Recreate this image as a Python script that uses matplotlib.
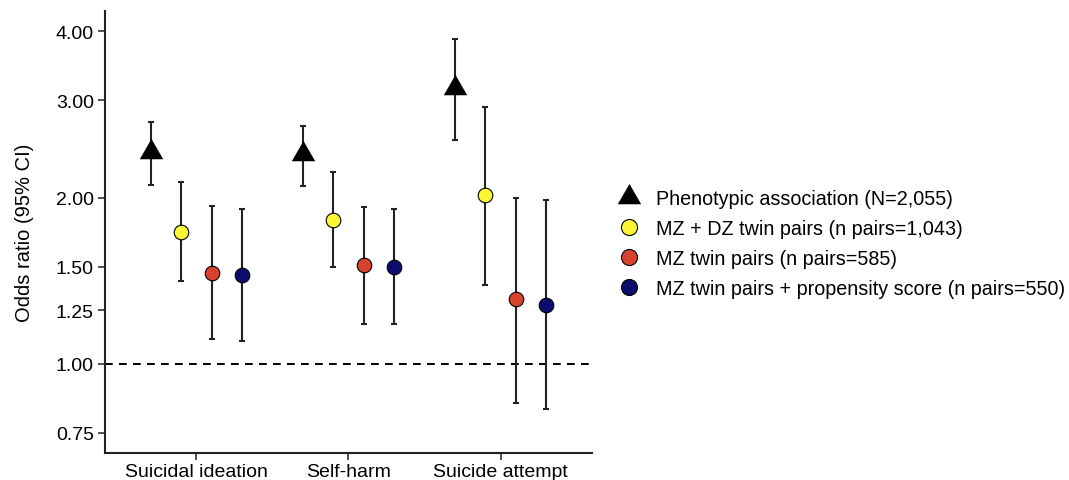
import matplotlib
matplotlib.use("Agg")
import matplotlib.pyplot as plt
from matplotlib.lines import Line2D
import numpy as np

plt.rcParams['font.family'] = ['Liberation Sans', 'DejaVu Sans']

categories = ["Suicidal ideation", "Self-harm", "Suicide attempt"]
series_names = [
    "Phenotypic association (N=2,055)",
    "MZ + DZ twin pairs (n pairs=1,043)",
    "MZ twin pairs (n pairs=585)",
    "MZ twin pairs + propensity score (n pairs=550)",
]
# odds ratios and 95% CI per series, one value per category
phenotypic_or = [2.42, 2.40, 3.16]
phenotypic_lo = [2.11, 2.10, 2.54]
phenotypic_hi = [2.74, 2.69, 3.87]

mzdz_or = [1.73, 1.82, 2.02]
mzdz_lo = [1.41, 1.50, 1.39]
mzdz_hi = [2.13, 2.22, 2.91]

mz_or = [1.46, 1.51, 1.31]
mz_lo = [1.11, 1.18, 0.85]
mz_hi = [1.93, 1.92, 2.00]

mzps_or = [1.45, 1.50, 1.28]
mzps_lo = [1.10, 1.18, 0.83]
mzps_hi = [1.91, 1.91, 1.98]

y_ticks = [0.75, 1.00, 1.25, 1.50, 2.00, 3.00, 4.00]

ors = [phenotypic_or, mzdz_or, mz_or, mzps_or]
los = [phenotypic_lo, mzdz_lo, mz_lo, mzps_lo]
his = [phenotypic_hi, mzdz_hi, mz_hi, mzps_hi]
colors = ["black", "#fbf833", "#d8432f", "#0c0c6e"]
offsets = [-0.3, -0.1, 0.1, 0.3]

tri = [(-1, -0.577), (1, -0.577), (0, 1.155)]
markers = [tri, "o", "o", "o"]
msizes = [19.5, 10.5, 10.5, 10.5]

fig = plt.figure(figsize=(10.69, 4.81), dpi=100)
ax = fig.add_axes([0.0982, 0.0561, 0.4556, 0.919])

x = np.arange(1, len(categories) + 1)
ax.axhline(1.0, color="black", lw=1.4, ls=(0, (4, 3.2)), zorder=1)

for i in range(4):
    xs = x + offsets[i]
    val = np.array(ors[i])
    err = [val - np.array(los[i]), np.array(his[i]) - val]
    ax.errorbar(xs, val, yerr=err, fmt="none", ecolor="#222222",
                elinewidth=1.5, capsize=2.3, capthick=1.5, zorder=2)
    ax.plot(xs, val, ls="none", marker=markers[i], markersize=msizes[i],
            markerfacecolor=colors[i], markeredgecolor="black",
            markeredgewidth=0.8 if i > 0 else 0, zorder=3)

ax.set_yscale("log")
ax.set_ylim(0.69, 4.35)
ax.set_xlim(0.4, 3.6)
ax.set_yticks(y_ticks)
ax.set_yticklabels([f"{v:.2f}" for v in y_ticks])
ax.yaxis.set_minor_locator(matplotlib.ticker.NullLocator())
ax.set_xticks(x)
ax.set_xticklabels(categories)
ax.tick_params(axis="both", labelsize=14, length=5, width=1.2,
               color="#333333", labelcolor="black", pad=3)
ax.tick_params(axis="x", pad=2)
ax.set_ylabel("Odds ratio (95% CI)", fontsize=14.5, labelpad=16)

for side in ["top", "right"]:
    ax.spines[side].set_visible(False)
for side in ["left", "bottom"]:
    ax.spines[side].set_linewidth(1.5)
    ax.spines[side].set_color("#222222")

handles = []
for i in range(4):
    handles.append(Line2D([], [], ls="none", marker=markers[i],
                          markersize=msizes[i] * (1.0 if i == 0 else 1.1),
                          markerfacecolor=colors[i], markeredgecolor="black",
                          markeredgewidth=0.8 if i > 0 else 0))
fig.legend(handles, series_names, loc="center left",
           bbox_to_anchor=(0.572, 0.492), frameon=False, fontsize=14.2,
           handlelength=1.0, handletextpad=0.85, labelspacing=0.55,
           borderaxespad=0)

fig.savefig("out.png", dpi=100)
